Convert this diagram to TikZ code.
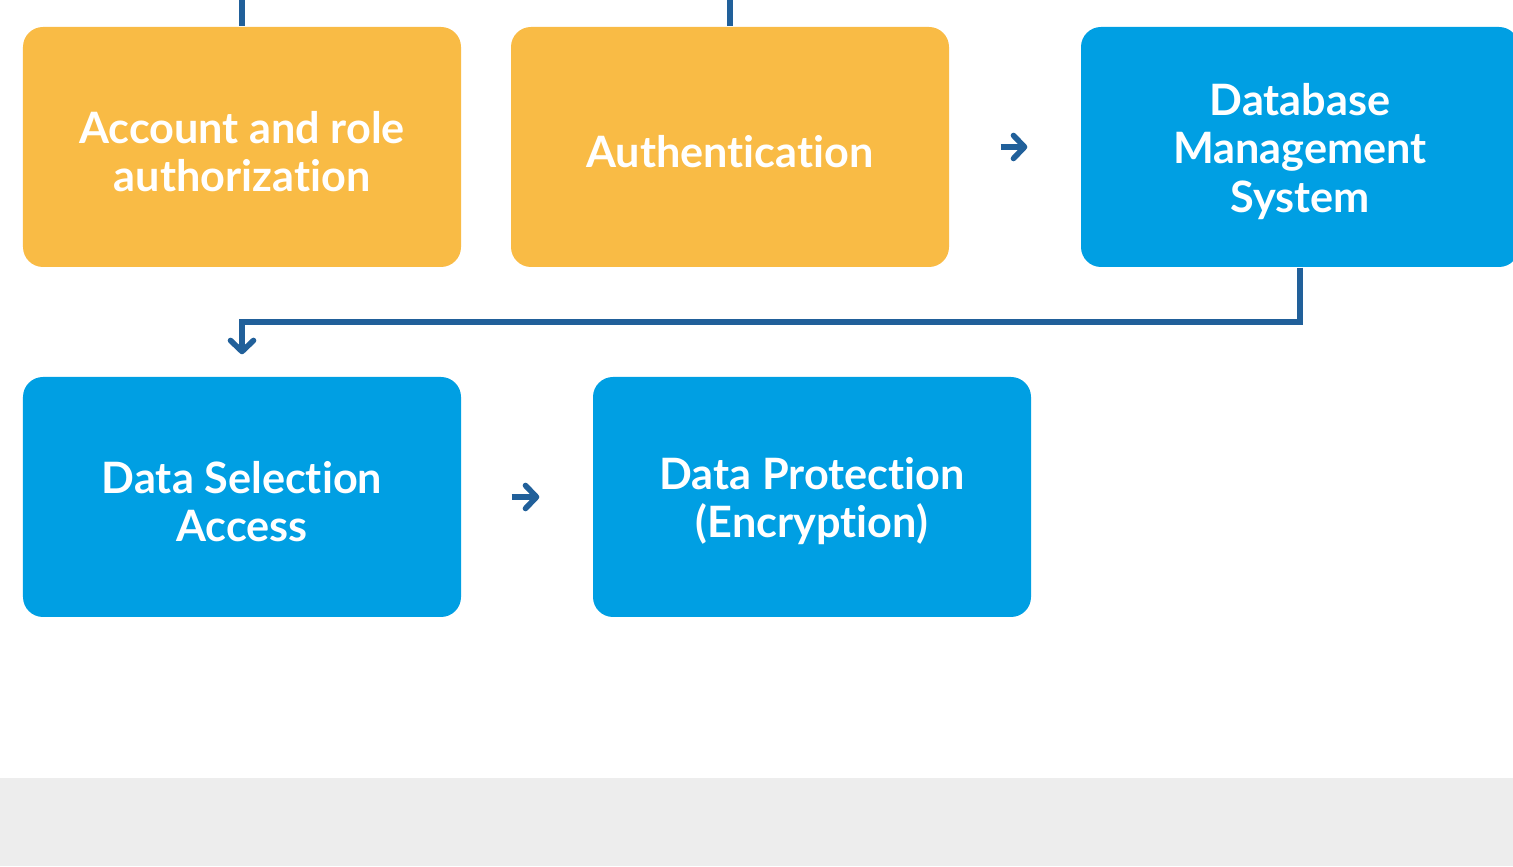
\documentclass[tikz,border=0pt]{standalone}
\usepackage{fontspec}
\setmainfont{Lato}[Ligatures=NoCommon]
\usetikzlibrary{arrows.meta}
\definecolor{stageorange}{HTML}{F9BB45}
\definecolor{stageblue}{HTML}{009FE3}
\definecolor{flowblue}{HTML}{21609A}
\definecolor{footgray}{HTML}{EDEDED}
\newcommand{\toprise}{\rule{0pt}{4.1mm}}
\tikzset{
  stage/.style={rounded corners=0.2cm, minimum width=4.38cm, minimum height=2.4cm,
    align=center, text=white, inner sep=0pt,
    font=\fontsize{12.3}{13.7}\selectfont\bfseries},
  flow/.style={draw=flowblue, line width=1.6pt, -{Straight Barb[round,length=1.1mm,width=2.3mm]}},
  link/.style={draw=flowblue, line width=1.5pt}
}
\begin{document}
\begin{tikzpicture}
  \useasboundingbox (0,0) rectangle (15.13,8.66);
  \fill[footgray] (0,0) rectangle (15.13,0.88);

  % first row
  \node[stage,fill=stageorange] (acct) at (2.42,7.19) {\toprise Account and role\\authorization};
  \node[stage,fill=stageorange] (auth) at (7.30,7.19) {\toprise Authentication};
  \node[stage,fill=stageblue] (dbms) at (13.00,7.19) {\toprise Database\\Management\\System};

  % second row
  \node[stage,fill=stageblue] (select) at (2.42,3.69) {\toprise Data Selection\\Access};
  \node[stage,fill=stageblue] (protect) at (8.12,3.69) {\toprise Data Protection\\(Encryption)};

  \coordinate (acctin) at (2.42,8.66);
  \coordinate (authin) at (7.30,8.66);
  \draw[link] (acctin) -- (acct.north);
  \draw[link] (authin) -- (auth.north);

  \draw[flow,shorten <=0.51cm,shorten >=0.53cm] (auth) -- (dbms);
  \draw[flow,shorten <=0.50cm,shorten >=0.53cm] (select) -- (protect);
  \draw[flow,shorten >=0.22cm] (dbms.south) -- ++(0,-0.54) -| (select.north);
\end{tikzpicture}
\end{document}
